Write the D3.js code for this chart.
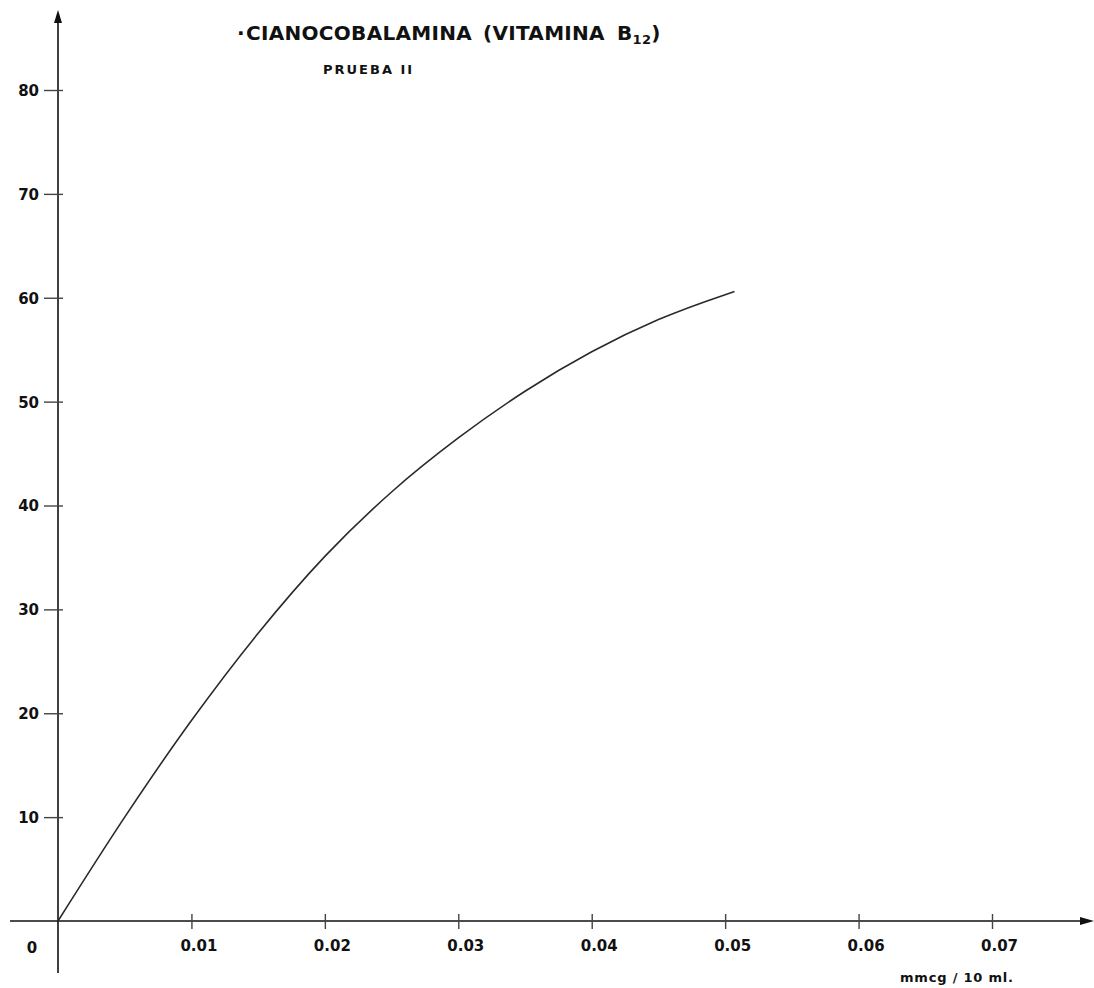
<!DOCTYPE html>
<html>
<head>
<meta charset="utf-8">
<script src="https://cdn.jsdelivr.net/npm/d3@7"></script>
<style>
  body { margin: 0; background: #fff; }
  svg { display: block; }
  .tick text { font-family: "DejaVu Sans", sans-serif; font-weight: bold; font-size: 15px; fill: #111; }
  .domain { display: none; }
  .title { font-family: "DejaVu Sans", sans-serif; font-weight: bold; fill: #111; }
</style>
</head>
<body>
<div id="chart"></div>
<script>
// dose (mmcg / 10 ml) vs response
var doses = [0, 0.005, 0.01, 0.015, 0.02, 0.025, 0.03, 0.035, 0.04, 0.045, 0.05, 0.0507];
var response = [0, 10, 19.3, 27.7, 35.1, 41.3, 46.5, 51.0, 54.8, 57.9, 60.3, 60.6];

var xTicks = [0.01, 0.02, 0.03, 0.04, 0.05, 0.06, 0.07];
var xTickLabels = ["0.01", "0.02", "0.03", "0.04", "0.05", "0.06", "0.07"];
var yTicks = [10, 20, 30, 40, 50, 60, 70, 80];

var width = 1094,
    height = 988;

var x = d3.scaleLinear().domain([0, 0.07]).range([58, 992]);
var y = d3.scaleLinear().domain([0, 80]).range([921, 90]);

var svg = d3.select("#chart").append("svg")
  .attr("width", width)
  .attr("height", height);

// axes lines, drawn by hand so they run past the origin like the paper one
var ox = x(0), oy = y(0);
svg.append("line")
  .attr("x1", ox).attr("x2", ox)
  .attr("y1", 20).attr("y2", 973)
  .attr("stroke", "#111").attr("stroke-width", 1.6);
svg.append("line")
  .attr("x1", 10).attr("x2", 1084)
  .attr("y1", oy).attr("y2", oy)
  .attr("stroke", "#111").attr("stroke-width", 1.6);

// arrow heads
svg.append("path")
  .attr("d", "M" + ox + ",10 L" + (ox - 4) + ",23 L" + (ox + 4) + ",23 Z")
  .attr("fill", "#111");
svg.append("path")
  .attr("d", "M1094," + oy + " L1080," + (oy - 4) + " L1080," + (oy + 4) + " Z")
  .attr("fill", "#111");

// y axis ticks
var yAxis = d3.axisLeft(y)
  .tickValues(yTicks)
  .tickFormat(d3.format("d"))
  .tickSize(14)
  .tickPadding(5);

var gy = svg.append("g")
  .attr("transform", "translate(" + ox + ",0)")
  .call(yAxis);
gy.selectAll(".tick line")
  .attr("x2", -14).attr("x1", 5)
  .attr("stroke", "#444").attr("stroke-width", 1.4);
gy.selectAll(".tick text").attr("dy", "0.36em");

// x axis ticks
var xAxis = d3.axisBottom(x)
  .tickValues(xTicks)
  .tickFormat(function(d, i) { return xTickLabels[i]; })
  .tickSize(7)
  .tickPadding(12);

var gx = svg.append("g")
  .attr("transform", "translate(0," + oy + ")")
  .call(xAxis);
gx.selectAll(".tick line")
  .attr("y1", -7).attr("y2", 8)
  .attr("stroke", "#444").attr("stroke-width", 1.4);
gx.selectAll(".tick text").attr("dx", 7);

// origin label
svg.append("text")
  .attr("class", "title")
  .attr("x", 32).attr("y", 953)
  .attr("text-anchor", "middle")
  .style("font-size", "15px")
  .text("0");

// unit label
svg.append("text")
  .attr("class", "title")
  .attr("x", 900).attr("y", 982)
  .style("font-size", "13px")
  .style("letter-spacing", "0.8px")
  .text("mmcg / 10 ml.");

// curve
var line = d3.line()
  .x(function(d, i) { return x(doses[i]); })
  .y(function(d) { return y(d); })
  .curve(d3.curveMonotoneX);

svg.append("path")
  .datum(response)
  .attr("d", line)
  .attr("fill", "none")
  .attr("stroke", "#2a2a2a")
  .attr("stroke-width", 1.6);

// titles
var t = svg.append("text")
  .attr("class", "title")
  .attr("x", 237).attr("y", 40)
  .style("font-size", "20px")
  .style("letter-spacing", "0.3px");
t.append("tspan").text("\u00b7");
t.append("tspan").attr("x", 246).text("CIANOCOBALAMINA");
t.append("tspan").attr("x", 483).text("(VITAMINA");
t.append("tspan").attr("x", 617).text("B");
t.append("tspan").attr("dy", 4).style("font-size", "13px").text("12");
t.append("tspan").attr("dy", -4).text(")");

svg.append("text")
  .attr("class", "title")
  .attr("x", 323).attr("y", 74)
  .style("font-size", "13px")
  .style("letter-spacing", "2px")
  .text("PRUEBA II");
</script>
</body>
</html>
